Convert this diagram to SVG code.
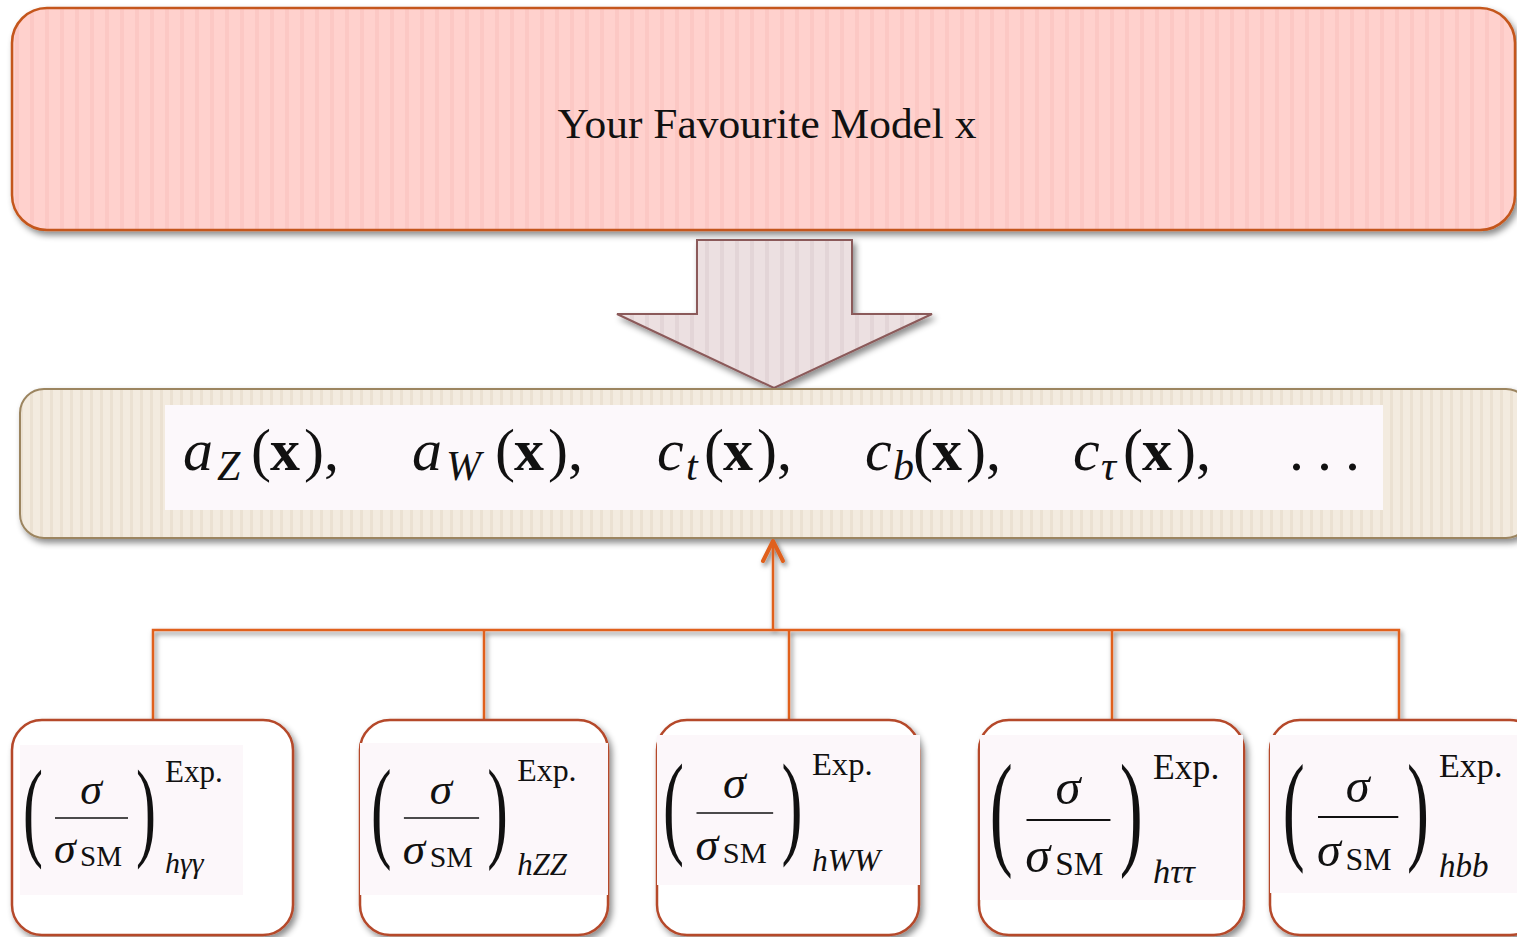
<svg xmlns="http://www.w3.org/2000/svg" xmlns:xlink="http://www.w3.org/1999/xlink" width="1517" height="937" viewBox="0 0 1517 937">
<style>
.serif{font-family:"Liberation Serif","Times New Roman",serif;fill:#111;}
.it{font-style:italic;}
.bd{font-weight:bold;}
.conn{fill:none;stroke:#e0601e;stroke-width:2.5;}
.bbox{fill:#ffffff;stroke:#b5482a;stroke-width:2.5;}
.inner{fill:#fcf7fa;}
</style>
<defs>
<filter id="sh" x="-5%" y="-10%" width="110%" height="130%">
<feDropShadow dx="3" dy="4" stdDeviation="3" flood-color="#000" flood-opacity="0.45"/>
</filter>
<filter id="shl" x="-5%" y="-10%" width="110%" height="130%">
<feDropShadow dx="2" dy="3" stdDeviation="2.5" flood-color="#000" flood-opacity="0.55"/>
</filter>
<pattern id="pTop" patternUnits="userSpaceOnUse" width="15" height="10">
<rect width="15" height="10" fill="#ffd1cd"/>
<rect x="0" width="4" height="10" fill="#fcc8c4"/>
</pattern>
<pattern id="pMid" patternUnits="userSpaceOnUse" width="10" height="10">
<rect width="10" height="10" fill="#f3ebdf"/>
<rect x="0" width="3" height="10" fill="#ebe1d2"/>
</pattern>
<pattern id="pArr" patternUnits="userSpaceOnUse" width="15" height="10">
<rect width="15" height="10" fill="#ece0e1"/>
<rect x="0" width="4" height="10" fill="#e3d5d7"/>
</pattern>
<marker id="chev" markerUnits="userSpaceOnUse" viewBox="-26 -14 30 28" markerWidth="30" markerHeight="28" refX="0" refY="0" orient="auto">
<path d="M-20,-10 L0,0 L-20,10" fill="none" stroke="#e0601e" stroke-width="4" stroke-linecap="round" stroke-linejoin="round"/>
</marker>
<g id="ratio">
<text class="serif" transform="translate(23,770) scale(1,1.83)" x="0" y="41.6" font-size="60">(</text>
<text class="serif it" x="91" y="804" font-size="44" text-anchor="middle">σ</text>
<line x1="55" y1="818" x2="128" y2="818" stroke="#111" stroke-width="1.6"/>
<text class="serif it" x="54" y="863" font-size="44">σ</text>
<text class="serif" x="80" y="866" font-size="29">SM</text>
<text class="serif" transform="translate(136,770) scale(1,1.83)" x="0" y="41.6" font-size="60">)</text>
<text class="serif" x="165" y="782" font-size="31">Exp.</text>
</g>
</defs>
<rect width="1517" height="937" fill="#ffffff"/>

<g id="model">
<rect x="12" y="8" width="1503" height="222" rx="35" ry="35" fill="url(#pTop)" stroke="#c4561b" stroke-width="2.5" filter="url(#sh)"/>
<text class="serif" x="767" y="138" font-size="42" text-anchor="middle" textLength="419" lengthAdjust="spacingAndGlyphs">Your Favourite Model x</text>
</g>

<g id="bigArrow">
<polygon points="697,240 852,240 852,314 932,314 774,388 617,314 697,314" fill="url(#pArr)" stroke="#8b5a5a" stroke-width="2" filter="url(#sh)"/>
</g>

<g id="couplings">
<rect x="20" y="389" width="1510" height="149" rx="24" ry="24" fill="url(#pMid)" stroke="#9c8560" stroke-width="2" filter="url(#sh)"/>
<rect x="165" y="405" width="1218" height="105" fill="#fcf8fb"/>
<text class="serif" font-size="60">
<tspan class="it" x="183" y="470">a</tspan><tspan class="it" x="217" y="480" font-size="42">Z</tspan><tspan x="251" y="470">(</tspan><tspan class="bd" x="270" y="470">x</tspan><tspan x="304" y="470">),</tspan>
<tspan class="it" x="412" y="470">a</tspan><tspan class="it" x="446" y="480" font-size="42">W</tspan><tspan x="495" y="470">(</tspan><tspan class="bd" x="514" y="470">x</tspan><tspan x="548" y="470">),</tspan>
<tspan class="it" x="657" y="470">c</tspan><tspan class="it" x="686" y="480" font-size="42">t</tspan><tspan x="704" y="470">(</tspan><tspan class="bd" x="723" y="470">x</tspan><tspan x="757" y="470">),</tspan>
<tspan class="it" x="865" y="470">c</tspan><tspan class="it" x="893" y="480" font-size="42">b</tspan><tspan x="913" y="470">(</tspan><tspan class="bd" x="932" y="470">x</tspan><tspan x="966" y="470">),</tspan>
<tspan class="it" x="1073" y="470">c</tspan><tspan class="it" x="1101" y="480" font-size="42">τ</tspan><tspan x="1123" y="470">(</tspan><tspan class="bd" x="1142" y="470">x</tspan><tspan x="1176" y="470">),</tspan>
<tspan x="1289 1317 1345" y="470">...</tspan>
</text>
</g>

<g id="connectors" filter="url(#shl)">
<polyline class="conn" points="153,720 153,630 1399,630 1399,720"/>
<line class="conn" x1="484" y1="630" x2="484" y2="720"/>
<line class="conn" x1="789" y1="630" x2="789" y2="720"/>
<line class="conn" x1="1112" y1="630" x2="1112" y2="720"/>
<line class="conn" x1="773" y1="630" x2="773" y2="541" stroke-width="3" marker-end="url(#chev)"/>
</g>

<g id="hgg">
<rect class="bbox" x="12" y="720" width="281" height="215" rx="30" ry="30" filter="url(#sh)"/>
<rect class="inner" x="20" y="745" width="223" height="150"/>
<use href="#ratio" xlink:href="#ratio"/>
<text class="serif it" x="165" y="873" font-size="30">hγγ</text>
</g>

<g id="hZZ">
<rect class="bbox" x="360" y="720" width="248" height="215" rx="30" ry="30" filter="url(#sh)"/>
<rect class="inner" x="360" y="743" width="248" height="152"/>
<g transform="translate(373,818) scale(1.03) translate(-25,-818)">
<use href="#ratio" xlink:href="#ratio"/>
<text class="serif it" x="165" y="873" font-size="30">hZZ</text>
</g>
</g>

<g id="hWW">
<rect class="bbox" x="657" y="720" width="262" height="215" rx="30" ry="30" filter="url(#sh)"/>
<rect class="inner" x="657" y="735" width="263" height="150"/>
<g transform="translate(665,813) scale(1.05) translate(-25,-818)">
<use href="#ratio" xlink:href="#ratio"/>
<text class="serif it" x="165" y="873" font-size="30">hWW</text>
</g>
</g>

<g id="htt">
<rect class="bbox" x="979" y="720" width="265" height="215" rx="30" ry="30" filter="url(#sh)"/>
<rect class="inner" x="980" y="735" width="263" height="165"/>
<g transform="translate(992,820) scale(1.15) translate(-25,-818)">
<use href="#ratio" xlink:href="#ratio"/>
<text class="serif it" x="165" y="873" font-size="30">hττ</text>
</g>
</g>

<g id="hbb">
<rect class="bbox" x="1270" y="720" width="270" height="215" rx="30" ry="30" filter="url(#sh)"/>
<rect class="inner" x="1270" y="735" width="247" height="158"/>
<g transform="translate(1285,817) scale(1.1) translate(-25,-818)">
<use href="#ratio" xlink:href="#ratio"/>
<text class="serif it" x="165" y="873" font-size="30">hbb</text>
</g>
</g>
</svg>
